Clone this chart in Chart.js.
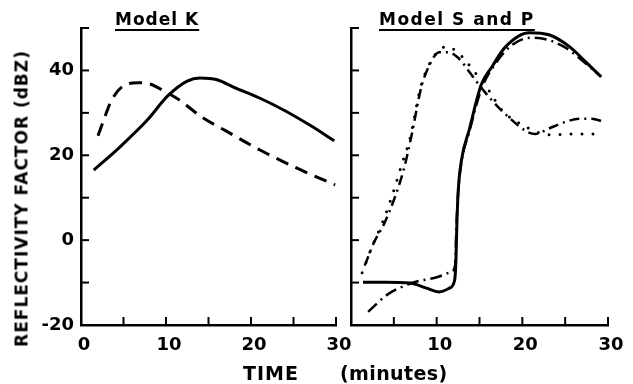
<!DOCTYPE html>
<html>
<head>
<meta charset="utf-8">
<script src="https://cdn.jsdelivr.net/npm/chart.js@4.4.1/dist/chart.umd.min.js"></script>
<style>
  body { margin: 0; background: #fff; }
  #wrap { position: relative; width: 633px; height: 384px; font-family: 'DejaVu Sans', sans-serif; font-weight: bold; color: #000; overflow: hidden; }
  canvas { position: absolute; left: 0; top: 0; }
  .lbl { position: absolute; white-space: pre; line-height: 1; }
  .ptitle { font-size: 17px; top: 11px; text-decoration: underline; text-decoration-thickness: 2px; text-underline-offset: 4px; }
</style>
</head>
<body>
<div id="wrap">
  <canvas id="chartK" width="633" height="384"></canvas>
  <canvas id="chartSP" width="633" height="384"></canvas>
  <div class="lbl ptitle" style="left:115px; letter-spacing:1px;">Model K</div>
  <div class="lbl ptitle" style="left:379px; letter-spacing:1.5px;">Model S and P</div>
  <div class="lbl" style="font-size:17px; letter-spacing:1px; width:320px; left:-138px; top:190px; text-align:center; transform:rotate(-90deg);">REFLECTIVITY FACTOR (dBZ)</div>
  <div class="lbl" style="font-size:19px; letter-spacing:1px; left:243px; top:364px;">TIME</div>
  <div class="lbl" style="font-size:19px; letter-spacing:0.4px; left:340px; top:364px;">(minutes)</div>
</div>
<script>
// axis values
var xTicksK = [0, 10, 20, 30];
var xTicksSP = [10, 20, 30];
var yTicks = [-20, 0, 20, 40];
var xMarks = [5, 10, 15, 20, 25, 30];
var yMarks = [-10, 0, 10, 20, 30, 40, 50];

// Model K
var kSolidT = [1.5, 4.6, 7.8, 10.2, 12.5, 14, 16, 18, 21, 24, 27, 29.8];
var kSolidV = [16.5, 22, 28.3, 34, 37.5, 38.2, 37.8, 36, 33.5, 30.5, 27, 23.4];
var kDashT = [2, 2.8, 3.6, 5.2, 6.7, 8.1, 9.9, 11.6, 14.2, 17, 21, 25.8, 29.9];
var kDashV = [24.6, 29, 33, 36.6, 37.1, 36.8, 35, 33, 29, 25.8, 21.3, 16.6, 13];

// Model S and P
var sSolidT = [1.4, 4, 6.9, 8.8, 10.3, 11.5, 12.1, 12.25, 12.35, 12.5, 12.9, 13.8, 15.2, 16.5, 18, 20.8, 23.1, 25.5, 27.4, 29.2];
var sSolidV = [-9.9, -9.9, -10.1, -11.3, -12.2, -11.3, -9.4, -4.7, 3.1, 11.1, 18.9, 26, 36.6, 41, 45.5, 48.9, 48.4, 45.6, 42, 38.5];
var sLowT = [2, 4.2, 7.1, 10.1, 11.7, 12.15, 12.3, 12.5, 12.9, 13.8, 15.2, 17, 18.8, 21, 23, 25.1, 26.6, 29.2];
var sLowV = [-16.9, -12.9, -10.1, -8.7, -7.5, -6, 3, 11, 18.5, 25.5, 35.5, 42, 46, 47.7, 47.2, 45.3, 43, 38.5];
var pDashDotT = [1.6, 2.7, 3.9, 5.1, 6.2, 7.1, 8.2, 9.1, 10.3, 11.3, 12.5, 13.8, 14.6, 16.7, 18.5, 20.6, 21.5, 23.1, 25.1, 26.6, 28.1, 29.5];
var pDashDotV = [-6, -0.5, 4, 10, 17, 25, 36, 41, 44.3, 44.3, 43, 39.7, 37.5, 32.4, 28.8, 25.5, 25, 26.3, 27.9, 28.6, 28.6, 27.9];
var pDotT = [1.3, 2.4, 3.7, 4.9, 5.9, 6.9, 8, 8.6, 10, 11.2, 12.4, 13.3, 14.6, 16.2, 17.3, 18.2, 19.4, 20.6, 22, 23.4, 25.1, 26.6, 28.1, 29.5];
var pDotV = [-7.7, -1.8, 4.3, 11.1, 17.7, 24.1, 35, 39, 44.2, 45.6, 44.4, 42.5, 39.2, 35, 31.4, 29.5, 27.9, 26.5, 25.3, 24.8, 25, 25, 25, 24.8];

function pts(ts, vs) {
    return ts.map(function (t, i) { return { x: t, y: vs[i] }; });
}

function line(ts, vs, dash, width) {
    return {
        data: pts(ts, vs),
        borderColor: '#000',
        borderWidth: width,
        borderDash: dash,
        borderCapStyle: dash.length && dash[0] === 0 ? 'round' : 'butt',
        pointRadius: 0,
        fill: false,
        cubicInterpolationMode: 'monotone'
    };
}

// small tick marks pointing into the plot
var inwardTicks = {
    id: 'inwardTicks',
    afterDraw: function (chart) {
        var ctx = chart.ctx, area = chart.chartArea;
        var x = chart.scales.x, y = chart.scales.y;
        ctx.save();
        ctx.strokeStyle = '#000';
        ctx.lineWidth = 2;
        xMarks.forEach(function (v) {
            var px = x.getPixelForValue(v);
            ctx.beginPath();
            ctx.moveTo(px, area.bottom);
            ctx.lineTo(px, area.bottom - 8);
            ctx.stroke();
        });
        yMarks.forEach(function (v) {
            var py = y.getPixelForValue(v);
            ctx.beginPath();
            ctx.moveTo(area.left, py);
            ctx.lineTo(area.left + 8, py);
            ctx.stroke();
        });
        ctx.restore();
    }
};

var tickFont = { family: "'DejaVu Sans', sans-serif", size: 18, weight: 'bold' };

function makeOptions(padLeft, padRight, yWidth, xTicks, showY) {
    return {
        responsive: false,
        animation: false,
        layout: { padding: { left: padLeft, right: padRight, top: 28, bottom: 0 } },
        plugins: { legend: { display: false }, tooltip: { enabled: false }, title: { display: false } },
        scales: {
            x: {
                type: 'linear', min: 0, max: 30,
                grid: { display: false, drawTicks: false },
                border: { display: true, color: '#000', width: 2.5 },
                afterBuildTicks: function (s) { s.ticks = xTicks.map(function (v) { return { value: v }; }); },
                afterFit: function (s) { s.height = 59; },
                ticks: { color: '#000', font: tickFont, padding: 10, labelOffset: 3, maxRotation: 0 }
            },
            y: {
                type: 'linear', min: -20, max: 50,
                grid: { display: false, drawTicks: false },
                border: { display: true, color: '#000', width: 2.5 },
                afterBuildTicks: function (s) { s.ticks = yTicks.map(function (v) { return { value: v }; }); },
                afterFit: function (s) { s.width = yWidth; },
                ticks: { display: showY, color: '#000', font: tickFont, padding: 7 }
            }
        }
    };
}

new Chart(document.getElementById('chartK').getContext('2d'), {
    type: 'line',
    data: {
        datasets: [
            line(kSolidT, kSolidV, [], 3),
            line(kDashT, kDashV, [13, 8], 3)
        ]
    },
    options: makeOptions(0, 297, 81, xTicksK, true),
    plugins: [inwardTicks]
});

new Chart(document.getElementById('chartSP').getContext('2d'), {
    type: 'line',
    data: {
        datasets: [
            line(sSolidT, sSolidV, [], 3),
            line(sLowT, sLowV, [12, 5, 2, 5], 2.5),
            line(pDashDotT, pDashDotV, [10, 5, 2, 5], 2.5),
            line(pDotT, pDotV, [0, 11], 3)
        ]
    },
    options: makeOptions(351, 25, 0, xTicksSP, false),
    plugins: [inwardTicks]
});
</script>
</body>
</html>
